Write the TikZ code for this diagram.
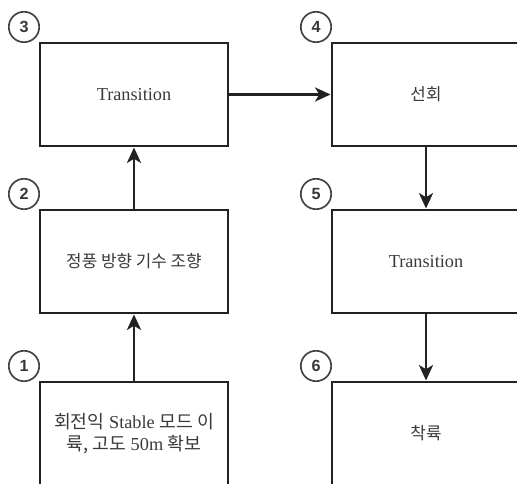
\documentclass[tikz,border=0pt]{standalone}
\usepackage{fontspec}
\setmainfont{Liberation Serif}
\newfontfamily\kr{Noto Sans CJK KR}
\newfontfamily\numfont{Liberation Sans}
\usepackage{tikz}
\usetikzlibrary{arrows.meta}
\definecolor{ink}{HTML}{222222}
\definecolor{txt}{HTML}{3a3a3a}

\begin{document}
\begin{tikzpicture}
\tikzstyle{blk}=[draw=ink,line width=2.1pt,shape=rectangle,minimum width=4.7cm,minimum height=2.575cm,align=center,text=txt,font=\fontsize{13}{15}\selectfont]
\tikzstyle{num}=[draw=ink!85,line width=1.2pt,shape=circle,minimum size=0.76cm,inner sep=0pt,text=ink!90,font=\numfont\bfseries\fontsize{11.5}{12}\selectfont]
\tikzstyle{flow}=[draw=ink,line width=1.8pt,-{Stealth[length=11pt,width=10pt,inset=3pt]}]

\useasboundingbox (0,0) rectangle (12.925,-12.1);
\clip (0,0) rectangle (12.925,-12.1);

% left column
\node[blk](b3) at (3.35,-2.3625){Transition};
\node[blk](b2) at (3.35,-6.5375){\kr\fontsize{12}{14}\selectfont 정풍 방향 기수 조향};
\node[blk](b1) at (3.35,-10.8375){{\kr 회전익} Stable {\kr 모드 이}\\[1pt]{\kr 륙, 고도} 50m {\kr 확보}};
% right column
\node[blk](b4) at (10.65,-2.3625){\kr\fontsize{12}{14}\selectfont 선회};
\node[blk](b5) at (10.65,-6.5375){Transition};
\node[blk](b6) at (10.65,-10.8375){\kr\fontsize{12}{14}\selectfont 착륙};
%
\node[num](n3) at (0.6,-0.675){3};
\node[num](n2) at (0.6,-4.85){2};
\node[num](n1) at (0.6,-9.15){1};
\node[num](n4) at (7.9,-0.675){4};
\node[num](n5) at (7.9,-4.85){5};
\node[num](n6) at (7.9,-9.15){6};
%
\draw[flow] (b1) -- (b2);
\draw[flow] (b2) -- (b3);
\draw[flow] (b3) -- (b4);
\draw[flow] (b4) -- (b5);
\draw[flow] (b5) -- (b6);
\end{tikzpicture}
\end{document}
